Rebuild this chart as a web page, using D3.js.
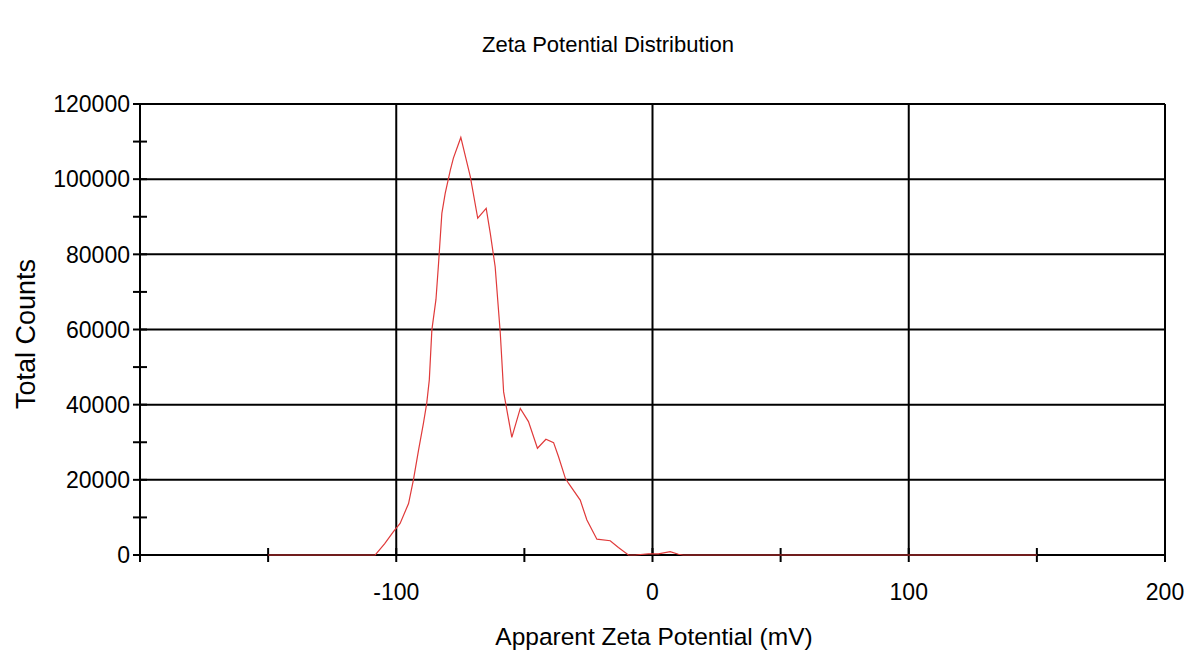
<!DOCTYPE html>
<html><head><meta charset="utf-8">
<script src="https://cdn.jsdelivr.net/npm/d3@7"></script>
<style>body{margin:0;background:#fff}svg{display:block}text{font-family:"Liberation Sans",Arial,sans-serif;fill:#000}</style>
</head><body><svg id="c" width="1192" height="653"></svg>
<script>
const potential = [-150,-108.2,-104.5,-101.1,-98.5,-95.2,-93.3,-91.3,-89.4,-88.1,-87.1,-86.1,-84.5,-83.5,-82.2,-80.9,-78.9,-77.7,-74.8,-71.1,-68.2,-64.9,-63.3,-61.4,-59.4,-58.8,-58.1,-54.9,-51.6,-48.4,-44.9,-41.6,-38.6,-36.7,-34.0,-32.8,-28.2,-25.6,-21.7,-16.5,-13.3,-9.4,-6.8,-1.6,2.3,6.9,10.1,12,150];
const counts    = [0,0,3000,6200,8400,13700,20000,27900,35000,40400,46600,59900,68000,77500,90900,96200,102400,105600,111100,100700,89600,92200,85600,76700,59000,51900,43400,31300,39000,35500,28400,30800,29900,26200,20400,19100,14600,9300,4200,3800,2000,0,0,300,300,900,200,0,0];
const xTicks = [-200,-150,-100,-50,0,50,100,150,200];
const xLabels = [-100,0,100,200];
const yMajor = [0,20000,40000,60000,80000,100000,120000];
const yMinor = [10000,30000,50000,70000,90000,110000];

const svg = d3.select("#c");
const L=140,R=1165,T=104,B=555;
const x = d3.scaleLinear().domain([-200,200]).range([L,R]);
const y = d3.scaleLinear().domain([0,120000]).range([B,T]);

// grid
svg.append("g").selectAll("line").data(yMajor).join("line")
  .attr("x1",L).attr("x2",R).attr("y1",d=>y(d)).attr("y2",d=>y(d))
  .attr("stroke","#000").attr("stroke-width",2);
svg.append("g").selectAll("line").data([-200,-100,0,100,200]).join("line")
  .attr("x1",d=>x(d)).attr("x2",d=>x(d)).attr("y1",T).attr("y2",B)
  .attr("stroke","#000").attr("stroke-width",2);

// y ticks
svg.append("g").selectAll("line").data(yMajor.concat(yMinor)).join("line")
  .attr("x1",L-7).attr("x2",L+7).attr("y1",d=>y(d)).attr("y2",d=>y(d))
  .attr("stroke","#000").attr("stroke-width",2);
svg.append("g").selectAll("text").data(yMajor).join("text")
  .attr("x",L-10).attr("y",d=>y(d)).attr("dy","0.36em").attr("text-anchor","end")
  .attr("font-size",23).text(d=>d);
// x ticks
svg.append("g").selectAll("line").data(xTicks).join("line")
  .attr("x1",d=>x(d)).attr("x2",d=>x(d)).attr("y1",B-7).attr("y2",B+7)
  .attr("stroke","#000").attr("stroke-width",2);
svg.append("g").selectAll("text").data(xLabels).join("text")
  .attr("x",d=>x(d)).attr("y",600).attr("text-anchor","middle")
  .attr("font-size",23).text(d=>d);

// line
const data = potential.map((p,i)=>[p,counts[i]]);
svg.append("path").datum(data)
  .attr("d",d3.line().x(d=>x(d[0])).y(d=>y(d[1])))
  .attr("fill","none").attr("stroke","#e03a3a").attr("stroke-width",1.2);

// titles
svg.append("text").attr("x",608).attr("y",52).attr("text-anchor","middle")
  .attr("font-size",22).text("Zeta Potential Distribution");
svg.append("text").attr("x",654).attr("y",645).attr("text-anchor","middle")
  .attr("font-size",24.5).text("Apparent Zeta Potential (mV)");
svg.append("text").attr("transform","translate(35,334) rotate(-90)").attr("text-anchor","middle")
  .attr("font-size",27).text("Total Counts");
</script></body></html>
